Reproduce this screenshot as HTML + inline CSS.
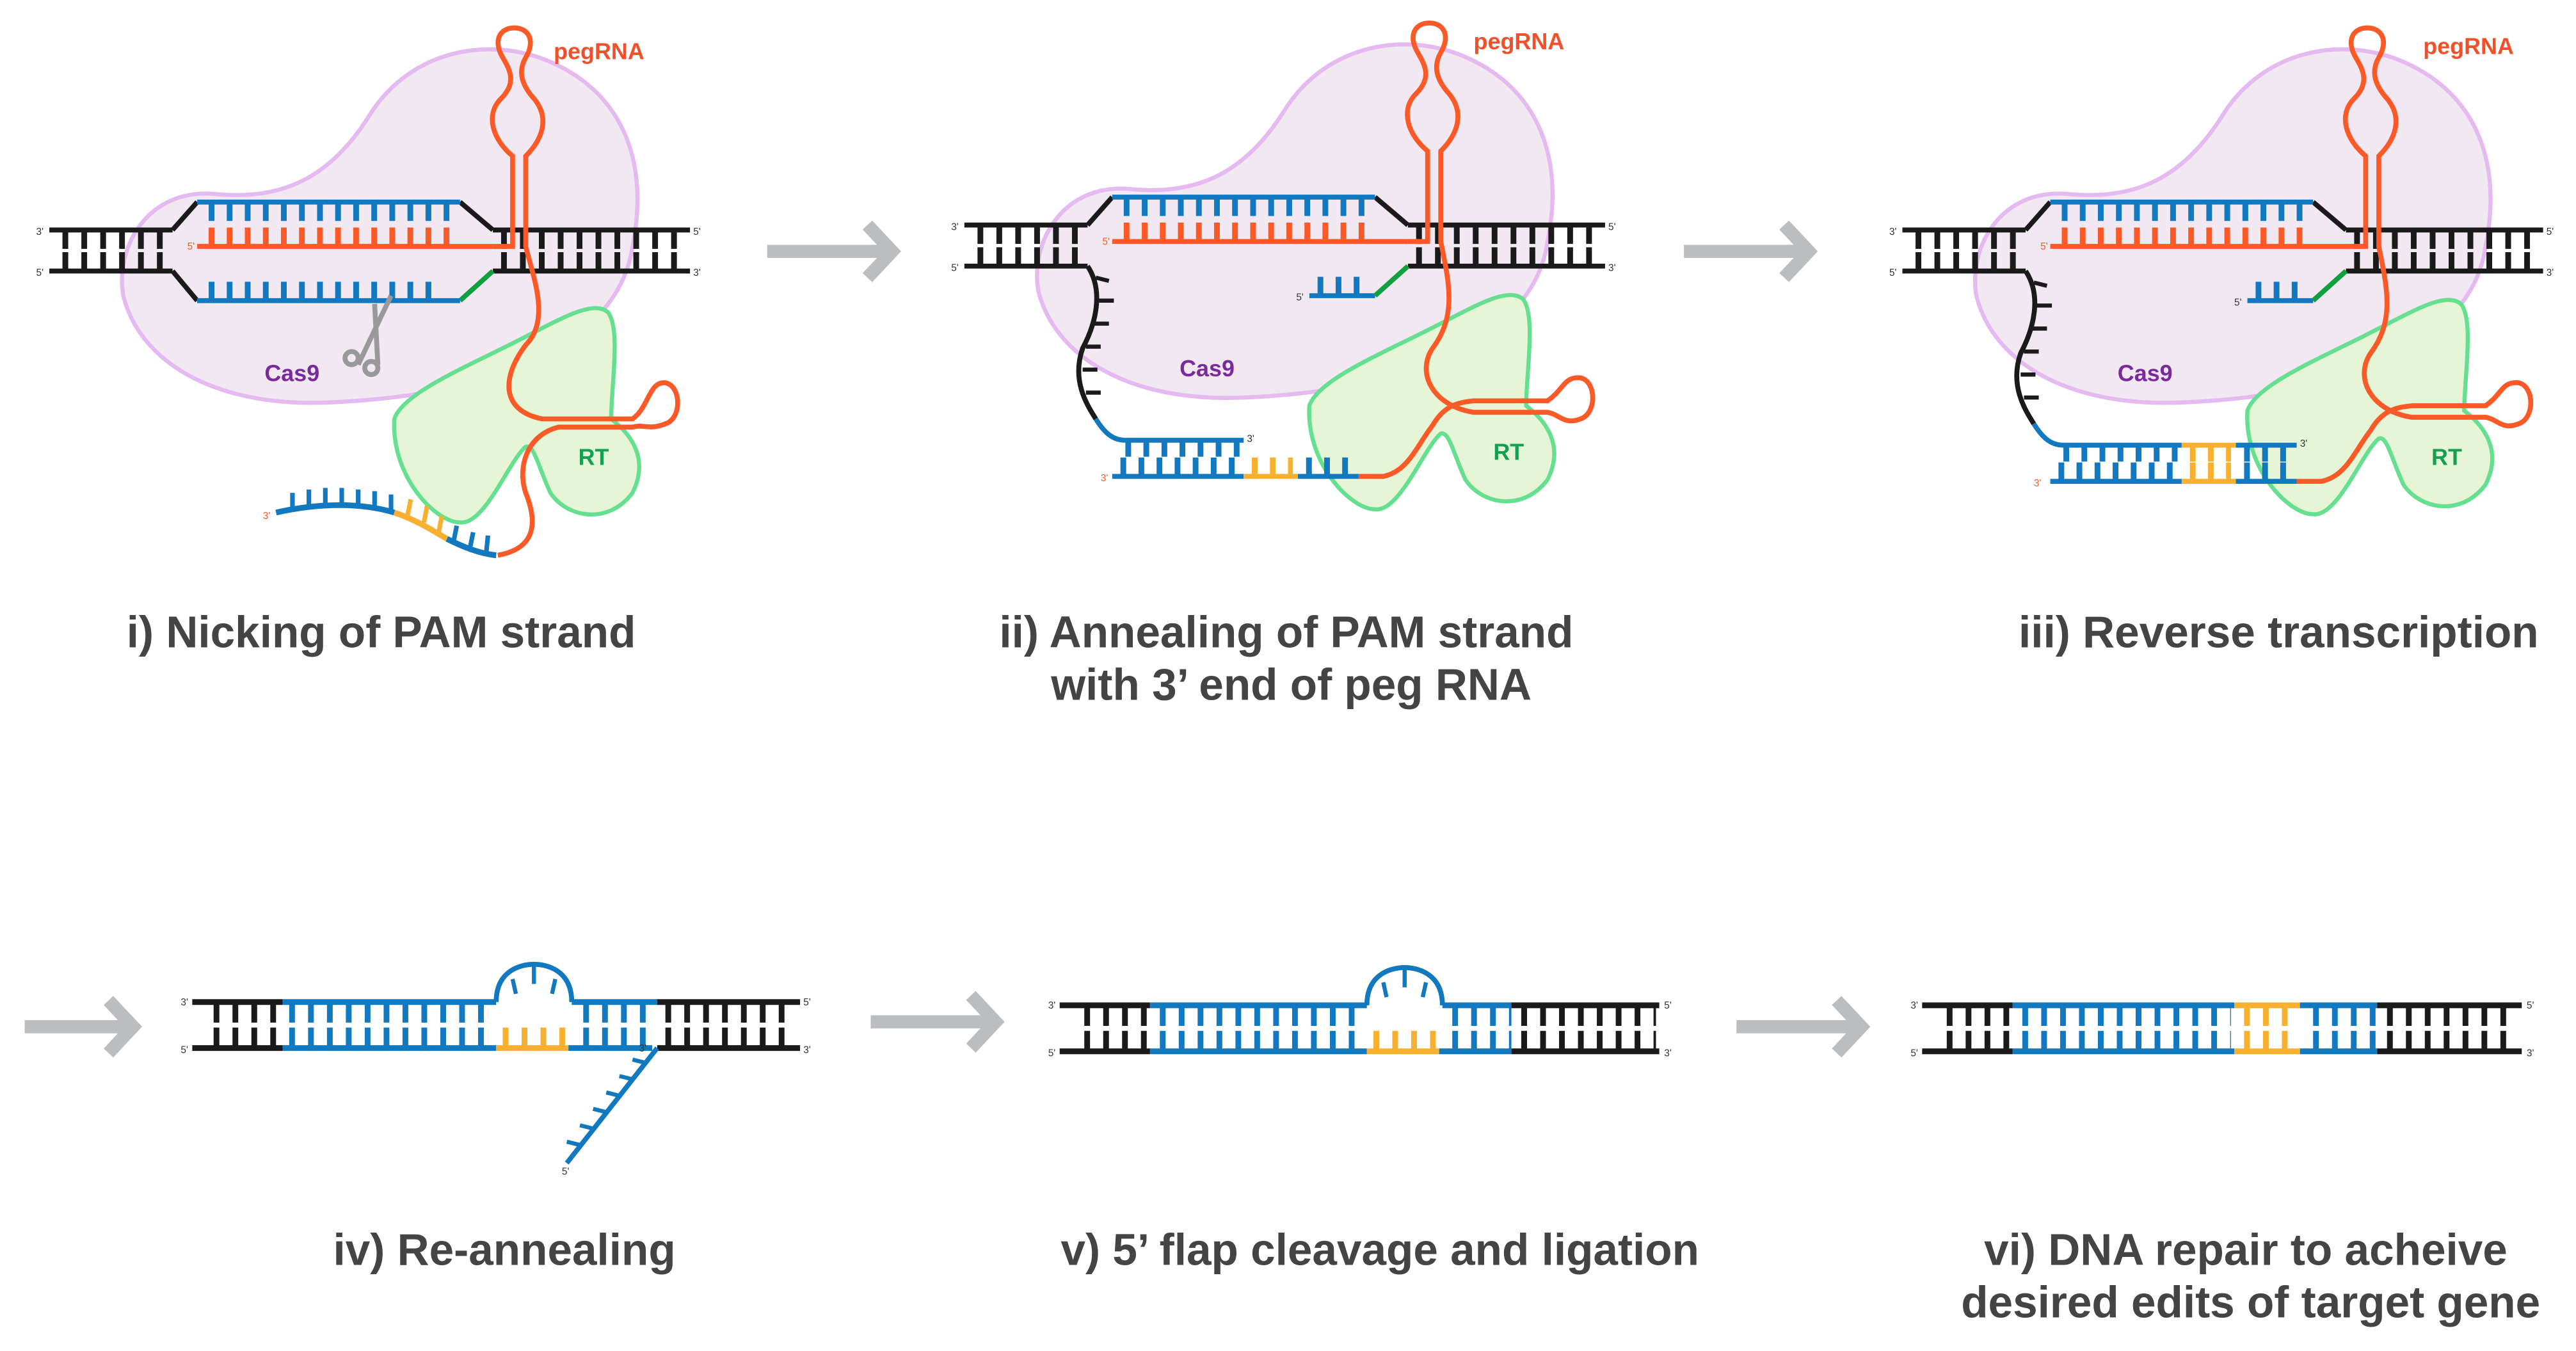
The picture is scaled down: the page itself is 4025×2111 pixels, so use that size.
<!DOCTYPE html>
<html><head><meta charset="utf-8"><style>
html,body{margin:0;padding:0;background:#fff;}
svg{display:block;}
.lbl{font-family:"Liberation Sans",sans-serif;font-weight:bold;font-size:27px;fill:#444;text-anchor:middle;}
.sm{font-family:"Liberation Sans",sans-serif;font-size:6px;}
.pg{font-family:"Liberation Sans",sans-serif;font-weight:bold;font-size:14px;fill:#f0502a;}
.cas{font-family:"Liberation Sans",sans-serif;font-weight:bold;font-size:14px;fill:#7a2a9a;}
.rt{font-family:"Liberation Sans",sans-serif;font-weight:bold;font-size:14px;fill:#14a050;}
</style></head><body>
<svg width="4025" height="2111" viewBox="0 0 1568 822.4" xmlns="http://www.w3.org/2000/svg">
<defs>
<path id="cas" d="M75,180 C70,150 90,115 130,118 C170,122 200,110 225,70 C250,30 300,20 340,40 C380,60 395,100 385,150 C378,200 320,240 200,245 C130,248 85,220 75,180 Z" fill="#f2e8f2" stroke="#e5baf0" stroke-width="2.5"/>
<path id="rt" d="M240,255 C245,240 280,225 310,210 C340,195 360,182 370,190 C378,200 372,235 372,255 C385,265 395,280 385,300 C370,320 345,315 335,300 C328,285 325,270 320,272 C310,280 295,320 280,318 C265,318 238,290 240,255 Z" fill="#e6f5d5" stroke="#66e090" stroke-width="2.5"/>
</defs>

<g stroke="#bcbdbf" stroke-width="8" fill="none">
<path d="M467,153 H540 M528,137 L543,153 L528,169"/>
<path d="M1025,153 H1098 M1086,137 L1101,153 L1086,169"/>
<path d="M15,625 H78 M66,609 L81,625 L66,641"/>
<path d="M530,622 H603 M591,606 L606,622 L591,638"/>
<path d="M1057,625 H1130 M1118,609 L1133,625 L1118,641"/>
</g>

<!-- ===== Panel i ===== -->
<g>
<use href="#cas"/>
<use href="#rt"/>
<g stroke="#1a1a1a">
<line x1="30" y1="140" x2="105" y2="140" stroke-width="3"/>
<line x1="30" y1="165" x2="105" y2="165" stroke-width="3"/>
<line x1="38" y1="146" x2="102" y2="146" stroke-width="11" stroke-dasharray="3.5 8"/>
<line x1="38" y1="159" x2="102" y2="159" stroke-width="11" stroke-dasharray="3.5 8"/>
<line x1="300" y1="140" x2="420" y2="140" stroke-width="3"/>
<line x1="300" y1="165" x2="420" y2="165" stroke-width="3"/>
<line x1="305" y1="146" x2="418" y2="146" stroke-width="11" stroke-dasharray="3.5 8"/>
<line x1="305" y1="159" x2="418" y2="159" stroke-width="11" stroke-dasharray="3.5 8"/>
<path d="M105,140 L120,123 M105,165 L120,183 M280,123 L300,140" stroke-width="3" fill="none"/>
</g>
<line x1="280" y1="183" x2="300" y2="165" stroke="#10a040" stroke-width="3"/>
<line x1="120" y1="123" x2="280" y2="123" stroke="#1278c0" stroke-width="3"/>
<line x1="127" y1="129" x2="278" y2="129" stroke="#1278c0" stroke-width="11" stroke-dasharray="3.5 7.5"/>
<line x1="120" y1="150" x2="300" y2="150" stroke="#fa5a28" stroke-width="3"/>
<line x1="127" y1="144" x2="278" y2="144" stroke="#fa5a28" stroke-width="11" stroke-dasharray="3.5 7.5"/>
<line x1="120" y1="183" x2="280" y2="183" stroke="#1278c0" stroke-width="3"/>
<line x1="127" y1="177" x2="270" y2="177" stroke="#1278c0" stroke-width="11" stroke-dasharray="3.5 7.5"/>
<path d="M300,150 L312,150 L312,95 C300,85 295,70 305,60 C315,50 310,42 306,35 C300,25 304,17 313,17 C322,17 326,25 320,35 C316,42 316,50 325,60 C335,72 330,85 320,95 L320,150 C325,170 335,195 320,210 C305,230 305,250 330,255 L385,255 C395,248 395,232 405,233 C415,235 415,255 405,258 C395,262 392,258 385,260 L340,260 C320,265 315,285 320,300 C330,325 320,335 303,338" fill="none" stroke="#fa5a28" stroke-width="3"/>
<path d="M168,312 C195,306 220,306 240,312" fill="none" stroke="#1278c0" stroke-width="3.5"/>
<path d="M240,312 C252,316 262,322 272,328" fill="none" stroke="#f8b030" stroke-width="3.5"/>
<path d="M272,328 C282,333 292,337 302,338" fill="none" stroke="#1278c0" stroke-width="3.5"/>
<g stroke="#1278c0" stroke-width="2.8"><path d="M178,310 v-10 M188,308 v-10 M198,307 v-10 M208,307 v-10 M218,308 v-10 M228,309 v-10 M238,311 v-10 M276,330 l2,-10 M286,334 l2,-10 M296,336 l1,-10"/></g>
<g stroke="#f8b030" stroke-width="2.8"><path d="M248,314 l2,-10 M258,318 l2,-10 M267,324 l2,-10"/></g>
<g stroke="#999" stroke-width="3" fill="none"><path d="M218,222 L238,180 M230,222 L228,185"/><circle cx="214" cy="218" r="4"/><circle cx="226" cy="224" r="4"/></g>
<text class="pg" x="337" y="36">pegRNA</text>
<text class="cas" x="161" y="232">Cas9</text>
<text class="rt" x="352" y="283">RT</text>
<text class="sm" x="22" y="143" fill="#333">3'</text><text class="sm" x="22" y="168" fill="#333">5'</text>
<text class="sm" x="422" y="143" fill="#333">5'</text><text class="sm" x="422" y="168" fill="#333">3'</text>
<text class="sm" x="114" y="152" fill="#fa5a28">5'</text><text class="sm" x="160" y="316" fill="#fa5a28">3'</text>
</g>

<!-- ===== Panel ii ===== -->
<g transform="translate(557,-3)">
<use href="#cas"/>
<use href="#rt" transform="translate(0,-5)"/>
<g stroke="#1a1a1a">
<line x1="30" y1="140" x2="105" y2="140" stroke-width="3"/>
<line x1="30" y1="165" x2="105" y2="165" stroke-width="3"/>
<line x1="38" y1="146" x2="102" y2="146" stroke-width="11" stroke-dasharray="3.5 8"/>
<line x1="38" y1="159" x2="102" y2="159" stroke-width="11" stroke-dasharray="3.5 8"/>
<line x1="300" y1="140" x2="420" y2="140" stroke-width="3"/>
<line x1="300" y1="165" x2="420" y2="165" stroke-width="3"/>
<line x1="305" y1="146" x2="418" y2="146" stroke-width="11" stroke-dasharray="3.5 8"/>
<line x1="305" y1="159" x2="418" y2="159" stroke-width="11" stroke-dasharray="3.5 8"/>
<path d="M105,140 L120,123 M280,123 L300,140" stroke-width="3" fill="none"/>
<path d="M105,165 C115,180 110,200 102,215 C95,235 105,250 110,258" stroke-width="3" fill="none"/>
<path d="M110,172 l8,2 M112,186 l9,0 M109,200 l9,0 M104,214 l9,0 M102,228 l9,0 M104,242 l9,0" stroke-width="2.5"/>
</g>
<path d="M110,258 C115,266 120,271 128,271 L200,271" fill="none" stroke="#1278c0" stroke-width="3"/>
<line x1="128" y1="276" x2="198" y2="276" stroke="#1278c0" stroke-width="10" stroke-dasharray="3.5 7.5"/>
<line x1="240" y1="183" x2="280" y2="183" stroke="#1278c0" stroke-width="3"/>
<line x1="245" y1="177" x2="272" y2="177" stroke="#1278c0" stroke-width="11" stroke-dasharray="3.5 7.5"/>
<line x1="280" y1="183" x2="300" y2="165" stroke="#10a040" stroke-width="3"/>
<line x1="120" y1="123" x2="280" y2="123" stroke="#1278c0" stroke-width="3"/>
<line x1="127" y1="129" x2="278" y2="129" stroke="#1278c0" stroke-width="11" stroke-dasharray="3.5 7.5"/>
<line x1="120" y1="150" x2="300" y2="150" stroke="#fa5a28" stroke-width="3"/>
<line x1="127" y1="144" x2="278" y2="144" stroke="#fa5a28" stroke-width="11" stroke-dasharray="3.5 7.5"/>
<line x1="120" y1="293" x2="200" y2="293" stroke="#1278c0" stroke-width="3"/>
<line x1="200" y1="293" x2="233" y2="293" stroke="#f8b030" stroke-width="3"/>
<line x1="233" y1="293" x2="270" y2="293" stroke="#1278c0" stroke-width="3"/>
<line x1="125" y1="287" x2="198" y2="287" stroke="#1278c0" stroke-width="11" stroke-dasharray="3.5 7.5"/>
<line x1="205" y1="287" x2="230" y2="287" stroke="#f8b030" stroke-width="11" stroke-dasharray="3.5 7.5"/>
<line x1="238" y1="287" x2="268" y2="287" stroke="#1278c0" stroke-width="11" stroke-dasharray="3.5 7.5"/>
<path d="M270,293 L285,293 C300,290 305,275 315,262 C322,250 330,248 340,247 L385,247 C395,240 395,232 405,233 C415,235 415,255 405,258 C395,262 392,255 385,254 L340,254 C315,250 305,230 315,215 C330,195 325,175 320,150 L320,95 C330,85 335,72 325,60 C316,50 316,42 320,35 C326,25 322,17 313,17 C304,17 300,25 306,35 C310,42 315,50 305,60 C295,70 300,85 312,95 L312,150 L300,150" fill="none" stroke="#fa5a28" stroke-width="3"/>
<text class="pg" x="340" y="33">pegRNA</text>
<text class="cas" x="161" y="232">Cas9</text>
<text class="rt" x="352" y="283">RT</text>
<text class="sm" x="22" y="143" fill="#333">3'</text><text class="sm" x="22" y="168" fill="#333">5'</text>
<text class="sm" x="422" y="143" fill="#333">5'</text><text class="sm" x="422" y="168" fill="#333">3'</text>
<text class="sm" x="114" y="152" fill="#fa5a28">5'</text><text class="sm" x="232" y="186" fill="#333">5'</text>
<text class="sm" x="202" y="272" fill="#333">3'</text><text class="sm" x="113" y="296" fill="#fa5a28">3'</text>
</g>

<!-- ===== Panel iii ===== -->
<g transform="translate(1128,0)">
<use href="#cas"/>
<use href="#rt" transform="translate(0,-5)"/>
<g stroke="#1a1a1a">
<line x1="30" y1="140" x2="105" y2="140" stroke-width="3"/>
<line x1="30" y1="165" x2="105" y2="165" stroke-width="3"/>
<line x1="38" y1="146" x2="102" y2="146" stroke-width="11" stroke-dasharray="3.5 8"/>
<line x1="38" y1="159" x2="102" y2="159" stroke-width="11" stroke-dasharray="3.5 8"/>
<line x1="300" y1="140" x2="420" y2="140" stroke-width="3"/>
<line x1="300" y1="165" x2="420" y2="165" stroke-width="3"/>
<line x1="305" y1="146" x2="418" y2="146" stroke-width="11" stroke-dasharray="3.5 8"/>
<line x1="305" y1="159" x2="418" y2="159" stroke-width="11" stroke-dasharray="3.5 8"/>
<path d="M105,140 L120,123 M280,123 L300,140" stroke-width="3" fill="none"/>
<path d="M105,165 C115,180 110,200 102,215 C95,235 105,250 110,258" stroke-width="3" fill="none"/>
<path d="M110,172 l8,2 M112,186 l9,0 M109,200 l9,0 M104,214 l9,0 M102,228 l9,0 M104,242 l9,0" stroke-width="2.5"/>
</g>
<path d="M110,258 C115,266 120,271 128,271 L200,271" fill="none" stroke="#1278c0" stroke-width="3"/>
<line x1="200" y1="271" x2="233" y2="271" stroke="#f8b030" stroke-width="3"/>
<line x1="233" y1="271" x2="270" y2="271" stroke="#1278c0" stroke-width="3"/>
<line x1="128" y1="276" x2="198" y2="276" stroke="#1278c0" stroke-width="10" stroke-dasharray="3.5 7.5"/>
<line x1="205" y1="276" x2="230" y2="276" stroke="#f8b030" stroke-width="10" stroke-dasharray="3.5 7.5"/>
<line x1="238" y1="276" x2="268" y2="276" stroke="#1278c0" stroke-width="10" stroke-dasharray="3.5 7.5"/>
<line x1="240" y1="183" x2="280" y2="183" stroke="#1278c0" stroke-width="3"/>
<line x1="245" y1="177" x2="272" y2="177" stroke="#1278c0" stroke-width="11" stroke-dasharray="3.5 7.5"/>
<line x1="280" y1="183" x2="300" y2="165" stroke="#10a040" stroke-width="3"/>
<line x1="120" y1="123" x2="280" y2="123" stroke="#1278c0" stroke-width="3"/>
<line x1="127" y1="129" x2="278" y2="129" stroke="#1278c0" stroke-width="11" stroke-dasharray="3.5 7.5"/>
<line x1="120" y1="150" x2="300" y2="150" stroke="#fa5a28" stroke-width="3"/>
<line x1="127" y1="144" x2="278" y2="144" stroke="#fa5a28" stroke-width="11" stroke-dasharray="3.5 7.5"/>
<line x1="120" y1="293" x2="200" y2="293" stroke="#1278c0" stroke-width="3"/>
<line x1="200" y1="293" x2="233" y2="293" stroke="#f8b030" stroke-width="3"/>
<line x1="233" y1="293" x2="270" y2="293" stroke="#1278c0" stroke-width="3"/>
<line x1="125" y1="287" x2="198" y2="287" stroke="#1278c0" stroke-width="11" stroke-dasharray="3.5 7.5"/>
<line x1="205" y1="287" x2="230" y2="287" stroke="#f8b030" stroke-width="11" stroke-dasharray="3.5 7.5"/>
<line x1="238" y1="287" x2="268" y2="287" stroke="#1278c0" stroke-width="11" stroke-dasharray="3.5 7.5"/>
<path d="M270,293 L285,293 C300,290 305,275 315,262 C322,250 330,248 340,247 L385,247 C395,240 395,232 405,233 C415,235 415,255 405,258 C395,262 392,255 385,254 L340,254 C315,250 305,230 315,215 C330,195 325,175 320,150 L320,95 C330,85 335,72 325,60 C316,50 316,42 320,35 C326,25 322,17 313,17 C304,17 300,25 306,35 C310,42 315,50 305,60 C295,70 300,85 312,95 L312,150 L300,150" fill="none" stroke="#fa5a28" stroke-width="3"/>
<text class="pg" x="347" y="33">pegRNA</text>
<text class="cas" x="161" y="232">Cas9</text>
<text class="rt" x="352" y="283">RT</text>
<text class="sm" x="22" y="143" fill="#333">3'</text><text class="sm" x="22" y="168" fill="#333">5'</text>
<text class="sm" x="422" y="143" fill="#333">5'</text><text class="sm" x="422" y="168" fill="#333">3'</text>
<text class="sm" x="114" y="152" fill="#fa5a28">5'</text><text class="sm" x="232" y="186" fill="#333">5'</text>
<text class="sm" x="272" y="272" fill="#333">3'</text><text class="sm" x="110" y="296" fill="#fa5a28">3'</text>
</g>

<!-- ===== Panel iv ===== -->
<g>
<line x1="117" y1="610" x2="172" y2="610" stroke="#1a1a1a" stroke-width="3.5"/>
<line x1="172" y1="610" x2="302" y2="610" stroke="#1278c0" stroke-width="3.5"/>
<path d="M302,610 C302,590 318,587 325,587 C332,587 348,590 348,610" fill="none" stroke="#1278c0" stroke-width="3"/>
<path d="M325,587 v12 M312,596 l2,9 M338,596 l-2,9" stroke="#1278c0" stroke-width="2.5"/>
<line x1="348" y1="610" x2="400" y2="610" stroke="#1278c0" stroke-width="3.5"/>
<line x1="400" y1="610" x2="487" y2="610" stroke="#1a1a1a" stroke-width="3.5"/>
<line x1="117" y1="638" x2="172" y2="638" stroke="#1a1a1a" stroke-width="3.5"/>
<line x1="172" y1="638" x2="302" y2="638" stroke="#1278c0" stroke-width="3.5"/>
<line x1="302" y1="638" x2="346" y2="638" stroke="#f8b030" stroke-width="3.5"/>
<line x1="346" y1="638" x2="397" y2="638" stroke="#1278c0" stroke-width="3.5"/>
<line x1="400" y1="638" x2="487" y2="638" stroke="#1a1a1a" stroke-width="3.5"/>
<line x1="130" y1="617" x2="172" y2="617" stroke="#1a1a1a" stroke-width="11" stroke-dasharray="3.5 8"/>
<line x1="130" y1="631" x2="172" y2="631" stroke="#1a1a1a" stroke-width="11" stroke-dasharray="3.5 8"/>
<line x1="176" y1="617" x2="300" y2="617" stroke="#1278c0" stroke-width="11" stroke-dasharray="3.5 8"/>
<line x1="176" y1="631" x2="300" y2="631" stroke="#1278c0" stroke-width="11" stroke-dasharray="3.5 8"/>
<line x1="306" y1="631" x2="345" y2="631" stroke="#f8b030" stroke-width="11" stroke-dasharray="3.5 8"/>
<line x1="355" y1="617" x2="395" y2="617" stroke="#1278c0" stroke-width="11" stroke-dasharray="3.5 8"/>
<line x1="355" y1="631" x2="395" y2="631" stroke="#1278c0" stroke-width="11" stroke-dasharray="3.5 8"/>
<line x1="405" y1="617" x2="485" y2="617" stroke="#1a1a1a" stroke-width="11" stroke-dasharray="3.5 8"/>
<line x1="405" y1="631" x2="485" y2="631" stroke="#1a1a1a" stroke-width="11" stroke-dasharray="3.5 8"/>
<path d="M400,638 L345,708" stroke="#1278c0" stroke-width="3"/>
<path d="M393,647 l-8,-2 M385,657 l-8,-2 M377,667 l-8,-2 M369,677 l-8,-2 M361,687 l-8,-2 M353,697 l-8,-2" stroke="#1278c0" stroke-width="2.5"/>
<text class="sm" x="110" y="612" fill="#333">3'</text><text class="sm" x="110" y="641" fill="#333">5'</text>
<text class="sm" x="489" y="612" fill="#333">5'</text><text class="sm" x="489" y="641" fill="#333">3'</text>
<text class="sm" x="389" y="640" fill="#333">3'</text><text class="sm" x="342" y="715" fill="#333">5'</text>
</g>

<!-- ===== Panel v ===== -->
<g>
<line x1="645" y1="612" x2="700" y2="612" stroke="#1a1a1a" stroke-width="3.5"/>
<line x1="700" y1="612" x2="832" y2="612" stroke="#1278c0" stroke-width="3.5"/>
<path d="M832,612 C832,592 848,589 855,589 C862,589 878,592 878,612" fill="none" stroke="#1278c0" stroke-width="3"/>
<path d="M855,589 v12 M842,598 l2,9 M868,598 l-2,9" stroke="#1278c0" stroke-width="2.5"/>
<line x1="878" y1="612" x2="920" y2="612" stroke="#1278c0" stroke-width="3.5"/>
<line x1="920" y1="612" x2="1010" y2="612" stroke="#1a1a1a" stroke-width="3.5"/>
<line x1="645" y1="640" x2="700" y2="640" stroke="#1a1a1a" stroke-width="3.5"/>
<line x1="700" y1="640" x2="832" y2="640" stroke="#1278c0" stroke-width="3.5"/>
<line x1="832" y1="640" x2="876" y2="640" stroke="#f8b030" stroke-width="3.5"/>
<line x1="876" y1="640" x2="920" y2="640" stroke="#1278c0" stroke-width="3.5"/>
<line x1="920" y1="640" x2="1010" y2="640" stroke="#1a1a1a" stroke-width="3.5"/>
<line x1="660" y1="619" x2="700" y2="619" stroke="#1a1a1a" stroke-width="11" stroke-dasharray="3.5 8"/>
<line x1="660" y1="633" x2="700" y2="633" stroke="#1a1a1a" stroke-width="11" stroke-dasharray="3.5 8"/>
<line x1="706" y1="619" x2="830" y2="619" stroke="#1278c0" stroke-width="11" stroke-dasharray="3.5 8"/>
<line x1="706" y1="633" x2="830" y2="633" stroke="#1278c0" stroke-width="11" stroke-dasharray="3.5 8"/>
<line x1="836" y1="633" x2="875" y2="633" stroke="#f8b030" stroke-width="11" stroke-dasharray="3.5 8"/>
<line x1="884" y1="619" x2="920" y2="619" stroke="#1278c0" stroke-width="11" stroke-dasharray="3.5 8"/>
<line x1="884" y1="633" x2="920" y2="633" stroke="#1278c0" stroke-width="11" stroke-dasharray="3.5 8"/>
<line x1="926" y1="619" x2="1008" y2="619" stroke="#1a1a1a" stroke-width="11" stroke-dasharray="3.5 8"/>
<line x1="926" y1="633" x2="1008" y2="633" stroke="#1a1a1a" stroke-width="11" stroke-dasharray="3.5 8"/>
<text class="sm" x="638" y="614" fill="#333">3'</text><text class="sm" x="638" y="643" fill="#333">5'</text>
<text class="sm" x="1013" y="614" fill="#333">5'</text><text class="sm" x="1013" y="643" fill="#333">3'</text>
</g>

<!-- ===== Panel vi ===== -->
<g>
<line x1="1170" y1="612" x2="1225" y2="612" stroke="#1a1a1a" stroke-width="3.5"/>
<line x1="1225" y1="612" x2="1360" y2="612" stroke="#1278c0" stroke-width="3.5"/>
<line x1="1360" y1="612" x2="1400" y2="612" stroke="#f8b030" stroke-width="3.5"/>
<line x1="1400" y1="612" x2="1447" y2="612" stroke="#1278c0" stroke-width="3.5"/>
<line x1="1447" y1="612" x2="1535" y2="612" stroke="#1a1a1a" stroke-width="3.5"/>
<line x1="1170" y1="640" x2="1225" y2="640" stroke="#1a1a1a" stroke-width="3.5"/>
<line x1="1225" y1="640" x2="1360" y2="640" stroke="#1278c0" stroke-width="3.5"/>
<line x1="1360" y1="640" x2="1400" y2="640" stroke="#f8b030" stroke-width="3.5"/>
<line x1="1400" y1="640" x2="1447" y2="640" stroke="#1278c0" stroke-width="3.5"/>
<line x1="1447" y1="640" x2="1535" y2="640" stroke="#1a1a1a" stroke-width="3.5"/>
<line x1="1185" y1="619" x2="1225" y2="619" stroke="#1a1a1a" stroke-width="11" stroke-dasharray="3.5 8"/>
<line x1="1185" y1="633" x2="1225" y2="633" stroke="#1a1a1a" stroke-width="11" stroke-dasharray="3.5 8"/>
<line x1="1231" y1="619" x2="1358" y2="619" stroke="#1278c0" stroke-width="11" stroke-dasharray="3.5 8"/>
<line x1="1231" y1="633" x2="1358" y2="633" stroke="#1278c0" stroke-width="11" stroke-dasharray="3.5 8"/>
<line x1="1366" y1="619" x2="1398" y2="619" stroke="#f8b030" stroke-width="11" stroke-dasharray="3.5 8"/>
<line x1="1366" y1="633" x2="1398" y2="633" stroke="#f8b030" stroke-width="11" stroke-dasharray="3.5 8"/>
<line x1="1408" y1="619" x2="1447" y2="619" stroke="#1278c0" stroke-width="11" stroke-dasharray="3.5 8"/>
<line x1="1408" y1="633" x2="1447" y2="633" stroke="#1278c0" stroke-width="11" stroke-dasharray="3.5 8"/>
<line x1="1453" y1="619" x2="1533" y2="619" stroke="#1a1a1a" stroke-width="11" stroke-dasharray="3.5 8"/>
<line x1="1453" y1="633" x2="1533" y2="633" stroke="#1a1a1a" stroke-width="11" stroke-dasharray="3.5 8"/>
<text class="sm" x="1163" y="614" fill="#333">3'</text><text class="sm" x="1163" y="643" fill="#333">5'</text>
<text class="sm" x="1538" y="614" fill="#333">5'</text><text class="sm" x="1538" y="643" fill="#333">3'</text>
</g>

<text class="lbl" x="232" y="394">i) Nicking of PAM strand</text>
<text class="lbl" x="783" y="394">ii) Annealing of PAM strand</text>
<text class="lbl" x="786" y="426">with 3’ end of peg RNA</text>
<text class="lbl" x="1387" y="394">iii) Reverse transcription</text>
<text class="lbl" x="307" y="770">iv) Re-annealing</text>
<text class="lbl" x="840" y="770">v) 5’ flap cleavage and ligation</text>
<text class="lbl" x="1367" y="770">vi) DNA repair to acheive</text>
<text class="lbl" x="1370" y="802">desired edits of target gene</text>
</svg>
</body></html>
